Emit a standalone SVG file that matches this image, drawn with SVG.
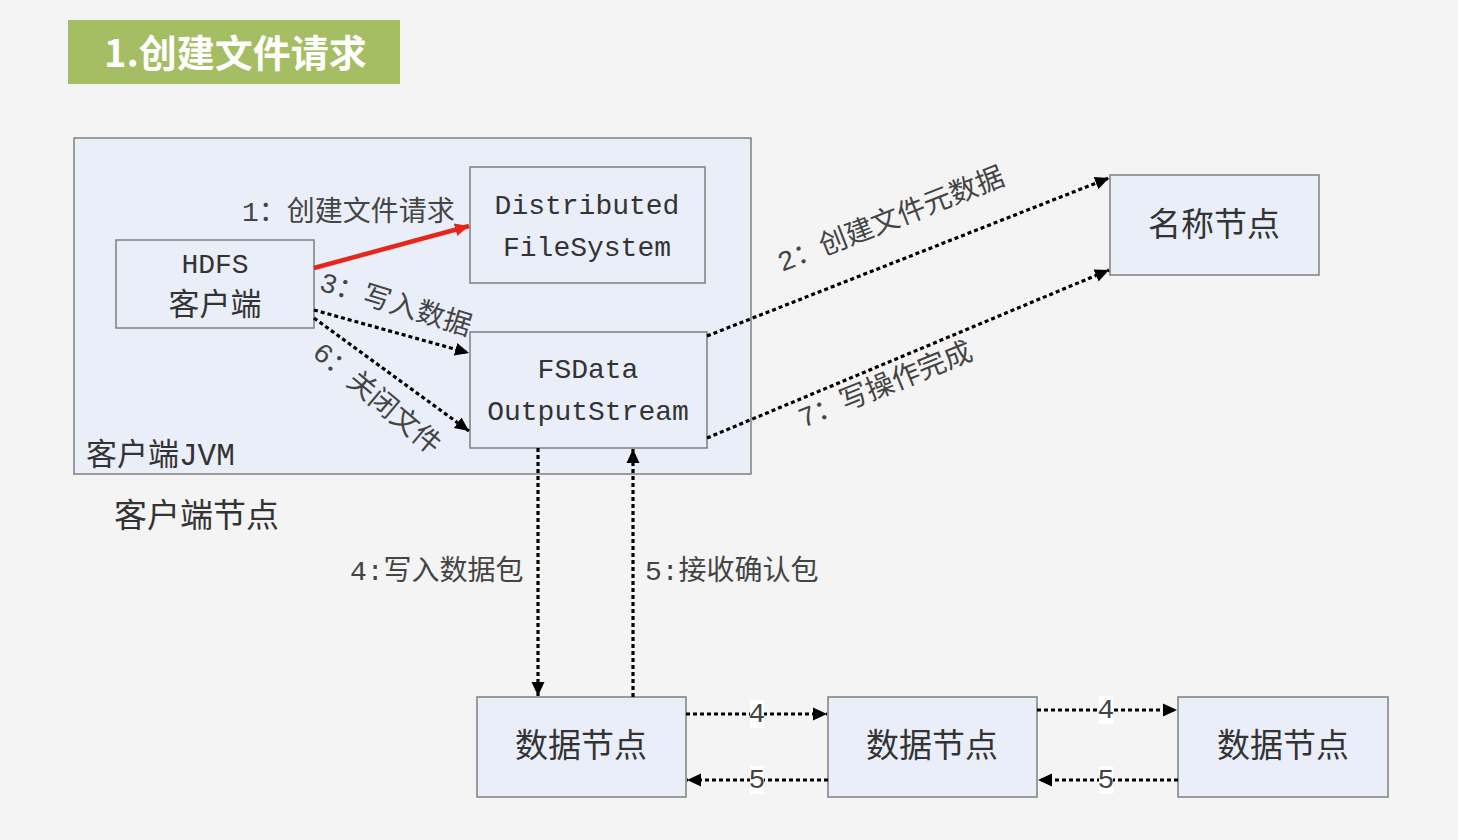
<svg xmlns="http://www.w3.org/2000/svg" width="1458" height="840" viewBox="0 0 1458 840">
<style>
.box{fill:#eaeef8;stroke:#7f7f7f;stroke-width:1.5}
.t{font-family:"Liberation Mono","Noto Sans CJK SC",monospace;fill:#333}
.c{font-family:"Noto Sans CJK SC","Liberation Serif",serif;fill:#333}
.dash{fill:none;stroke:#000;stroke-width:3.2;stroke-dasharray:4 3}
.lbl{font-family:"Liberation Mono","Noto Sans CJK SC",monospace;fill:#444;font-size:28px}
</style>
<defs>
<marker id="ah" markerUnits="userSpaceOnUse" markerWidth="16" markerHeight="16" refX="14" refY="8" orient="auto">
<path d="M0,1.5 L14,8 L0,14.5 z" fill="#000"/>
</marker>
<marker id="ahr" markerUnits="userSpaceOnUse" markerWidth="16" markerHeight="16" refX="14" refY="8" orient="auto">
<path d="M0,1.5 L14,8 L0,14.5 z" fill="#e8251b"/>
</marker>
</defs>
<rect width="1458" height="840" fill="#f4f4f4"/>
<g id="title">
<rect x="68" y="20" width="332" height="64" fill="#a5bd63"/>
<text x="104" y="67" font-family="'Noto Sans CJK SC',sans-serif" font-weight="bold" font-size="38" fill="#fff">1.创建文件请求</text>
</g>
<g id="jvm">
<rect class="box" x="74" y="138" width="677" height="336"/>
<text class="t" x="86" y="465" font-size="31">客户端JVM</text>
</g>
<g id="client-node-label">
<text class="c" x="114" y="527" font-size="33">客户端节点</text>
</g>
<g id="hdfs">
<rect class="box" x="116" y="240" width="198" height="88"/>
<text class="t" x="215" y="273" font-size="28" text-anchor="middle">HDFS</text>
<text class="c" x="215" y="315" font-size="31" text-anchor="middle">客户端</text>
</g>
<g id="dfs">
<rect class="box" x="470" y="167" width="235" height="116"/>
<text class="t" x="587" y="214" font-size="28" text-anchor="middle">Distributed</text>
<text class="t" x="587" y="256" font-size="28" text-anchor="middle">FileSystem</text>
</g>
<g id="fsdos">
<rect class="box" x="470" y="332" width="237" height="116"/>
<text class="t" x="588" y="378" font-size="28" text-anchor="middle">FSData</text>
<text class="t" x="588" y="420" font-size="28" text-anchor="middle">OutputStream</text>
</g>
<g id="namenode">
<rect class="box" x="1110" y="175" width="209" height="100"/>
<text class="c" x="1214" y="236" font-size="33" text-anchor="middle">名称节点</text>
</g>
<g id="dn1">
<rect class="box" x="477" y="697" width="209" height="100"/>
<text class="c" x="581" y="757" font-size="33" text-anchor="middle">数据节点</text>
</g>
<g id="dn2">
<rect class="box" x="828" y="697" width="209" height="100"/>
<text class="c" x="932" y="757" font-size="33" text-anchor="middle">数据节点</text>
</g>
<g id="dn3">
<rect class="box" x="1178" y="697" width="210" height="100"/>
<text class="c" x="1283" y="757" font-size="33" text-anchor="middle">数据节点</text>
</g>
<g id="connectors">
<line x1="314" y1="268" x2="469" y2="226" stroke="#e8251b" stroke-width="4.5" marker-end="url(#ahr)"/>
<text class="lbl" x="242" y="221">1：创建文件请求</text>
<line class="dash" x1="314" y1="310" x2="469" y2="353" marker-end="url(#ah)"/>
<text class="lbl" transform="translate(318,290) rotate(17)">3：写入数据</text>
<line class="dash" x1="314" y1="318" x2="469" y2="431" marker-end="url(#ah)"/>
<text class="lbl" transform="translate(311,355) rotate(40)">6：关闭文件</text>
<line class="dash" x1="707" y1="336" x2="1109" y2="178" marker-end="url(#ah)"/>
<text class="lbl" transform="translate(782,272) rotate(-21.4)">2：创建文件元数据</text>
<line class="dash" x1="707" y1="438" x2="1109" y2="270" marker-end="url(#ah)"/>
<text class="lbl" transform="translate(803,428) rotate(-22)">7：写操作完成</text>
<line class="dash" x1="538" y1="448" x2="538" y2="696" marker-end="url(#ah)"/>
<text class="lbl" x="350" y="580">4:写入数据包</text>
<line class="dash" x1="633" y1="697" x2="633" y2="449" marker-end="url(#ah)"/>
<text class="lbl" x="645" y="580">5:接收确认包</text>
<line class="dash" x1="686" y1="714" x2="827" y2="714" marker-end="url(#ah)"/>
<line class="dash" x1="828" y1="780" x2="687" y2="780" marker-end="url(#ah)"/>
<line class="dash" x1="1037" y1="710" x2="1177" y2="710" marker-end="url(#ah)"/>
<line class="dash" x1="1178" y1="780" x2="1038" y2="780" marker-end="url(#ah)"/>
<rect x="750" y="700" width="14" height="28" fill="#fff"/>
<text class="lbl" x="757" y="722" font-size="22" text-anchor="middle">4</text>
<rect x="750" y="766" width="14" height="28" fill="#fff"/>
<text class="lbl" x="757" y="788" font-size="22" text-anchor="middle">5</text>
<rect x="1099" y="696" width="14" height="28" fill="#fff"/>
<text class="lbl" x="1106" y="718" font-size="22" text-anchor="middle">4</text>
<rect x="1099" y="766" width="14" height="28" fill="#fff"/>
<text class="lbl" x="1106" y="788" font-size="22" text-anchor="middle">5</text>
</g>
</svg>
